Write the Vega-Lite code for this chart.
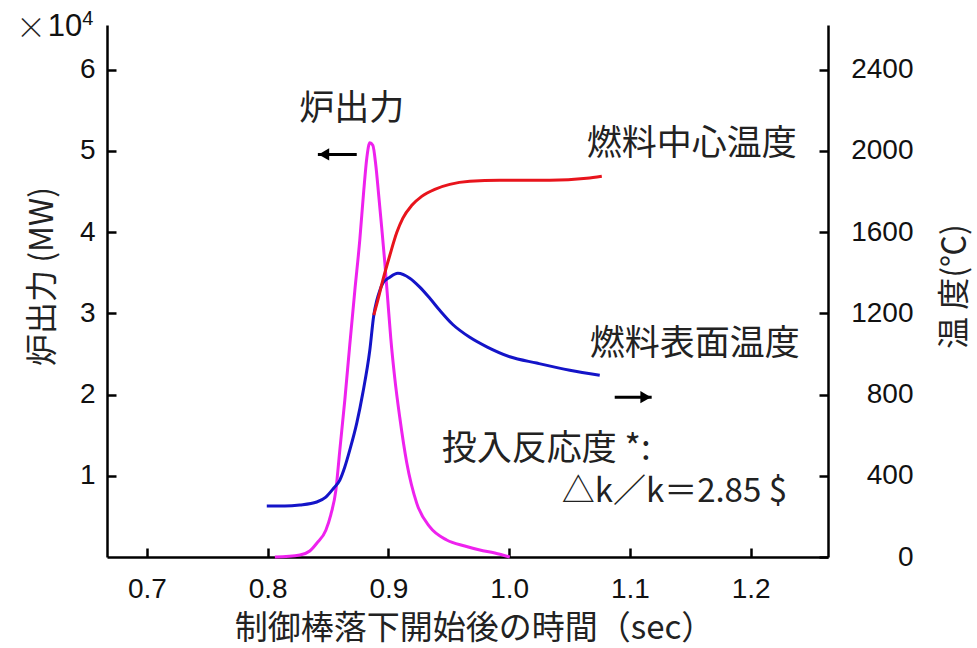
{
  "$schema": "https://vega.github.io/schema/vega-lite/v6.json",
  "width": 721,
  "height": 532,
  "autosize": {"type": "none"},
  "padding": {"left": 107, "top": 25, "right": 149, "bottom": 91},
  "background": "white",
  "config": {
    "view": {"stroke": null},
    "axis": {
      "grid": false,
      "domainColor": "black",
      "domainWidth": 2.5,
      "tickColor": "black",
      "tickWidth": 2.5,
      "labelFont": "Liberation Sans",
      "labelFontSize": 28,
      "labelColor": "#111",
      "titleFont": "Noto Sans CJK JP",
      "titleFontSize": 32,
      "titleFontWeight": "normal",
      "titleColor": "#222"
    }
  },
  "datasets": {
    "power": [
      {"t": 0.806, "p": 0.0}, {"t": 0.8267, "p": 0.025}, {"t": 0.8349, "p": 0.074},
      {"t": 0.8407, "p": 0.17}, {"t": 0.8482, "p": 0.33}, {"t": 0.8523, "p": 0.52},
      {"t": 0.8565, "p": 0.82}, {"t": 0.8598, "p": 1.32}, {"t": 0.8639, "p": 1.93},
      {"t": 0.868, "p": 2.61}, {"t": 0.8722, "p": 3.28}, {"t": 0.8763, "p": 3.9},
      {"t": 0.8796, "p": 4.51}, {"t": 0.8821, "p": 4.91}, {"t": 0.8846, "p": 5.1},
      {"t": 0.8871, "p": 5.07}, {"t": 0.8896, "p": 4.82}, {"t": 0.892, "p": 4.45},
      {"t": 0.8945, "p": 4.05}, {"t": 0.897, "p": 3.63}, {"t": 0.8995, "p": 3.16},
      {"t": 0.902, "p": 2.69}, {"t": 0.9053, "p": 2.2}, {"t": 0.9094, "p": 1.72},
      {"t": 0.9152, "p": 1.16}, {"t": 0.9235, "p": 0.66}, {"t": 0.9343, "p": 0.37},
      {"t": 0.9483, "p": 0.21}, {"t": 0.9632, "p": 0.135}, {"t": 0.9757, "p": 0.086},
      {"t": 0.9881, "p": 0.05}, {"t": 1.0005, "p": 0.0}
    ],
    "temp": [
      {"t": 0.7993, "T": 251, "s": "surface"}, {"t": 0.8142, "T": 251, "s": "surface"},
      {"t": 0.8267, "T": 256, "s": "surface"}, {"t": 0.8407, "T": 271, "s": "surface"},
      {"t": 0.8482, "T": 295, "s": "surface"}, {"t": 0.8548, "T": 340, "s": "surface"},
      {"t": 0.8598, "T": 379, "s": "surface"}, {"t": 0.8639, "T": 443, "s": "surface"},
      {"t": 0.868, "T": 526, "s": "surface"}, {"t": 0.8738, "T": 659, "s": "surface"},
      {"t": 0.8788, "T": 807, "s": "surface"}, {"t": 0.8846, "T": 1018, "s": "surface"},
      {"t": 0.8879, "T": 1191, "s": "surface"}, {"t": 0.8904, "T": 1264, "s": "surface"},
      {"t": 0.8929, "T": 1313, "s": "surface"}, {"t": 0.8954, "T": 1348, "s": "surface"},
      {"t": 0.9012, "T": 1378, "s": "surface"}, {"t": 0.9078, "T": 1397, "s": "surface"},
      {"t": 0.9177, "T": 1373, "s": "surface"}, {"t": 0.926, "T": 1329, "s": "surface"},
      {"t": 0.9343, "T": 1274, "s": "surface"}, {"t": 0.9425, "T": 1215, "s": "surface"},
      {"t": 0.9533, "T": 1145, "s": "surface"}, {"t": 0.9674, "T": 1082, "s": "surface"},
      {"t": 0.9815, "T": 1035, "s": "surface"}, {"t": 1.0005, "T": 986, "s": "surface"},
      {"t": 1.0228, "T": 955, "s": "surface"}, {"t": 1.0502, "T": 920, "s": "surface"},
      {"t": 1.075, "T": 895, "s": "surface"},
      {"t": 0.8879, "T": 1191, "s": "center"}, {"t": 0.8912, "T": 1264, "s": "center"},
      {"t": 0.8954, "T": 1363, "s": "center"}, {"t": 0.9012, "T": 1486, "s": "center"},
      {"t": 0.907, "T": 1599, "s": "center"}, {"t": 0.9119, "T": 1668, "s": "center"},
      {"t": 0.9194, "T": 1732, "s": "center"}, {"t": 0.9276, "T": 1776, "s": "center"},
      {"t": 0.9384, "T": 1811, "s": "center"}, {"t": 0.9508, "T": 1835, "s": "center"},
      {"t": 0.9674, "T": 1850, "s": "center"}, {"t": 0.9922, "T": 1855, "s": "center"},
      {"t": 1.0336, "T": 1855, "s": "center"}, {"t": 1.0642, "T": 1865, "s": "center"},
      {"t": 1.0767, "T": 1875, "s": "center"}
    ],
    "labels": [
      {"t": 0.8697, "v": 5.52, "text": "炉出力", "a": "c"},
      {"t": 1.0642, "v": 5.08, "text": "燃料中心温度", "a": "l"},
      {"t": 1.0667, "v": 2.62, "text": "燃料表面温度", "a": "l"},
      {"t": 0.9442, "v": 1.33, "text": "投入反応度 *:", "a": "l"}
    ],
    "formula": [
      {"t": 1.0435, "v": 0.8, "text": "△k／k＝2.85 $"}
    ],
    "exp": [
      {"t": 0.604, "v": 6.5, "text": "×", "k": "times"},
      {"t": 0.618, "v": 6.53, "text": "10", "k": "base"},
      {"t": 0.6512, "v": 6.62, "text": "4", "k": "sup"}
    ],
    "arrows": [
      {"t": 0.8738, "to": 0.8416, "v": 4.957, "dir": "left"},
      {"t": 1.0874, "to": 1.118, "v": 1.968, "dir": "right"}
    ]
  },
  "encoding": {
    "x": {
      "field": "t", "type": "quantitative",
      "scale": {"domain": [0.667, 1.264], "nice": false, "zero": false},
      "axis": {
        "orient": "bottom", "values": [0.7, 0.8, 0.9, 1.0, 1.1, 1.2], "format": ".1f",
        "tickSize": -9, "labelPadding": 27, "title": "制御棒落下開始後の時間（sec）",
        "titleFontSize": 33, "titleX": 367, "titleY": 71, "titleBaseline": "middle"
      }
    }
  },
  "layer": [
    {
      "data": {"name": "power"},
      "mark": {"type": "line", "color": "#ee22ee", "strokeWidth": 3, "interpolate": "monotone"},
      "encoding": {
        "y": {
          "field": "p", "type": "quantitative",
          "scale": {"domain": [0, 6.55], "nice": false},
          "axis": {
            "orient": "left", "values": [1, 2, 3, 4, 5, 6],
            "tickSize": -9, "labelPadding": 21, "title": "炉出力 (MW)",
            "titleX": -65, "titleY": 251, "titleAngle": 270,
            "titleBaseline": "middle", "titleAlign": "center"
          }
        }
      }
    },
    {
      "data": {"name": "temp"},
      "mark": {"type": "line", "strokeWidth": 3, "interpolate": "monotone"},
      "encoding": {
        "y": {
          "field": "T", "type": "quantitative",
          "scale": {"domain": [0, 2620], "nice": false},
          "axis": {
            "orient": "right", "values": [0, 400, 800, 1200, 1600, 2000, 2400], "format": "d",
            "tickSize": -9, "labelAlign": "right", "labelPadding": 94, "title": "温 度(℃)",
            "titleX": 126, "titleY": 261, "titleAngle": 270,
            "titleBaseline": "middle", "titleAlign": "center"
          }
        },
        "color": {
          "field": "s", "type": "nominal",
          "scale": {"domain": ["surface", "center"], "range": ["#1414c8", "#e8141c"]},
          "legend": null
        }
      }
    },
    {
      "data": {"name": "arrows"},
      "mark": {"type": "rule", "color": "black", "strokeWidth": 3},
      "encoding": {
        "x2": {"field": "to"},
        "y": {"field": "v", "type": "quantitative", "scale": {"domain": [0, 6.55], "nice": false}, "axis": null}
      }
    },
    {
      "data": {"name": "arrows"},
      "transform": [{"filter": "datum.dir === 'left'"}],
      "mark": {"type": "point", "shape": "triangle-left", "filled": true, "color": "black", "size": 150, "opacity": 1, "xOffset": 6},
      "encoding": {
        "x": {"field": "to", "type": "quantitative", "title": "制御棒落下開始後の時間（sec）"},
        "y": {"field": "v", "type": "quantitative", "scale": {"domain": [0, 6.55], "nice": false}, "axis": null}
      }
    },
    {
      "data": {"name": "arrows"},
      "transform": [{"filter": "datum.dir === 'right'"}],
      "mark": {"type": "point", "shape": "triangle-right", "filled": true, "color": "black", "size": 150, "opacity": 1, "xOffset": -6},
      "encoding": {
        "x": {"field": "to", "type": "quantitative", "title": "制御棒落下開始後の時間（sec）"},
        "y": {"field": "v", "type": "quantitative", "scale": {"domain": [0, 6.55], "nice": false}, "axis": null}
      }
    },
    {
      "data": {"name": "labels"},
      "transform": [{"filter": "datum.a === 'c'"}],
      "mark": {"type": "text", "font": "Noto Sans CJK JP", "fontSize": 35, "color": "#222", "align": "center", "baseline": "middle"},
      "encoding": {
        "y": {"field": "v", "type": "quantitative", "scale": {"domain": [0, 6.55], "nice": false}, "axis": null},
        "text": {"field": "text"}
      }
    },
    {
      "data": {"name": "labels"},
      "transform": [{"filter": "datum.a === 'l'"}],
      "mark": {"type": "text", "font": "Noto Sans CJK JP", "fontSize": 35, "color": "#222", "align": "left", "baseline": "middle"},
      "encoding": {
        "y": {"field": "v", "type": "quantitative", "scale": {"domain": [0, 6.55], "nice": false}, "axis": null},
        "text": {"field": "text"}
      }
    },
    {
      "data": {"name": "formula"},
      "mark": {"type": "text", "font": "Noto Sans CJK JP", "fontSize": 33, "color": "#222", "align": "left", "baseline": "middle"},
      "encoding": {
        "y": {"field": "v", "type": "quantitative", "scale": {"domain": [0, 6.55], "nice": false}, "axis": null},
        "text": {"field": "text"}
      }
    },
    {
      "data": {"name": "exp"},
      "transform": [{"filter": "datum.k === 'times'"}],
      "mark": {"type": "text", "font": "Noto Sans CJK JP", "fontSize": 30, "fontWeight": 300, "color": "#222", "align": "center", "baseline": "middle"},
      "encoding": {
        "y": {"field": "v", "type": "quantitative", "scale": {"domain": [0, 6.55], "nice": false}, "axis": null},
        "text": {"field": "text"}
      }
    },
    {
      "data": {"name": "exp"},
      "transform": [{"filter": "datum.k === 'base'"}],
      "mark": {"type": "text", "font": "Liberation Sans", "fontSize": 31, "color": "#111", "align": "left", "baseline": "middle"},
      "encoding": {
        "y": {"field": "v", "type": "quantitative", "scale": {"domain": [0, 6.55], "nice": false}, "axis": null},
        "text": {"field": "text"}
      }
    },
    {
      "data": {"name": "exp"},
      "transform": [{"filter": "datum.k === 'sup'"}],
      "mark": {"type": "text", "font": "Liberation Sans", "fontSize": 20, "color": "#111", "align": "center", "baseline": "middle"},
      "encoding": {
        "y": {"field": "v", "type": "quantitative", "scale": {"domain": [0, 6.55], "nice": false}, "axis": null},
        "text": {"field": "text"}
      }
    }
  ],
  "resolve": {"scale": {"y": "independent"}, "axis": {"y": "independent"}}
}
